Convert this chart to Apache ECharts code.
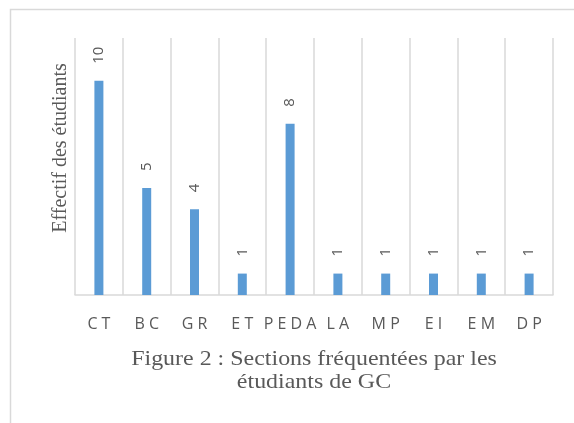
<!DOCTYPE html>
<html><head><meta charset="utf-8">
<script src="https://cdn.jsdelivr.net/npm/echarts@6/dist/echarts.min.js"></script>
<style>html,body{margin:0;padding:0;background:#fff;}#c{width:574px;height:423px;}</style>
</head><body><div id="c"></div>
<script>
const categories = ['CT','BC','GR','ET','PEDA','LA','MP','EI','EM','DP'];
const values = [10,5,4,1,8,1,1,1,1,1];
const yAxisTitle = 'Effectif des étudiants';
const captionLines = ['Figure 2 : Sections fréquentées par les','étudiants de GC'];

const chart = echarts.init(document.getElementById('c'), null, {renderer:'canvas'});
chart.setOption({
  animation:false,
  backgroundColor:'#ffffff',
  grid:{left:75,right:21,top:38,bottom:128,containLabel:false},
  xAxis:{
    type:'category', data:categories,
    axisLine:{show:true,lineStyle:{color:'#d9d9d9',width:1.5}},
    axisTick:{show:false},
    splitLine:{show:true,lineStyle:{color:'#d9d9d9',width:1.5}},
    axisLabel:{interval:0,margin:21,color:'#595959',fontFamily:'Open Sans',fontSize:16,
      formatter:v=>v.split('').join(' ')}
  },
  yAxis:{type:'value',min:0,max:12,show:false,splitLine:{show:false}},
  series:[{
    type:'bar', data:values, barWidth:9,
    itemStyle:{color:'#5b9bd5'},
    label:{show:true,position:'top',distance:17,rotate:90,align:'left',verticalAlign:'middle',
      color:'#595959',fontFamily:'Open Sans',fontSize:15}
  }],
  graphic:[
    {type:'rect',shape:{x:10.5,y:9.5,width:700,height:600},style:{fill:'none',stroke:'#d9d9d9',lineWidth:1.5},silent:true},
    {type:'text',x:61,y:148,rotation:Math.PI/2,style:{text:yAxisTitle,fill:'#595959',font:'20px "Liberation Serif"',textAlign:'center',textVerticalAlign:'middle'}},
    {type:'text',x:314,y:359,scaleX:1.14,style:{text:captionLines[0],fill:'#595959',font:'21px "Liberation Serif"',textAlign:'center',textVerticalAlign:'middle'}},
    {type:'text',x:314,y:382,scaleX:1.14,style:{text:captionLines[1],fill:'#595959',font:'21px "Liberation Serif"',textAlign:'center',textVerticalAlign:'middle'}}
  ]
});
</script></body></html>
